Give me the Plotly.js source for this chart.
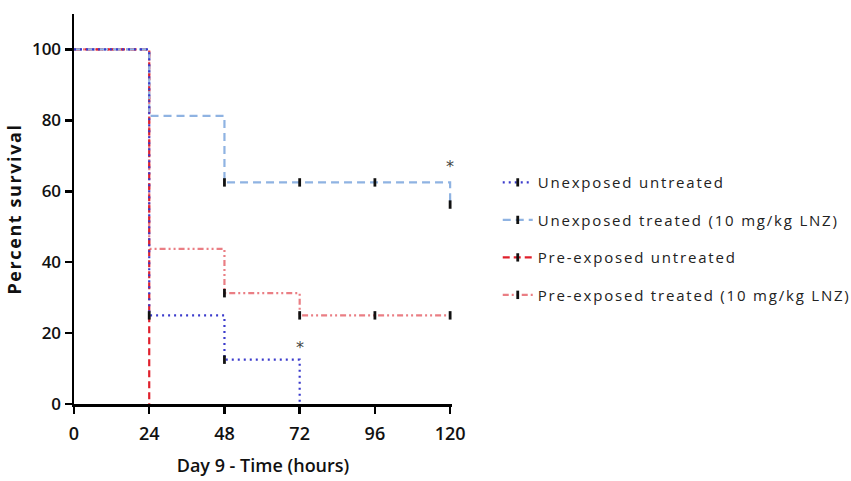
<!DOCTYPE html>
<html>
<head>
<meta charset="utf-8">
<script src="https://cdn.plot.ly/plotly-3.0.1.min.js"></script>
<style>
html,body{margin:0;padding:0;background:#fff;}
#chart{width:851px;height:481px;}
.legendtext{letter-spacing:1.8px;}
.ytitle{letter-spacing:1.6px;}
</style>
</head>
<body>
<div id="chart"></div>
<script>
// ---- data ----
const seriesNames = [
  "Unexposed untreated",
  "Unexposed treated (10 mg/kg LNZ)",
  "Pre-exposed untreated",
  "Pre-exposed treated (10 mg/kg LNZ)"
];
// step (event) points, hours vs percent survival
const unexpUntrX = [0, 24, 48, 72];
const unexpUntrY = [100, 25, 12.5, 0];
const unexpTrX = [0, 24, 48, 120];
const unexpTrY = [100, 81.25, 62.5, 56.25];
const preUntrX = [0, 24];
const preUntrY = [100, 0];
const preTrX = [0, 24, 48, 72, 120];
const preTrY = [100, 43.75, 31.25, 25, 25];
// censored marks
const unexpUntrCensX = [24, 48];
const unexpUntrCensY = [25, 12.5];
const unexpTrCensX = [48, 72, 96, 120];
const unexpTrCensY = [62.5, 62.5, 62.5, 56.25];
const preTrCensX = [48, 72, 96, 120];
const preTrCensY = [31.25, 25, 25, 25];
// significance stars
const starX = [72, 120];
const starY = [16, 67];
const xTicks = [0, 24, 48, 72, 96, 120];
const yTicks = [0, 20, 40, 60, 80, 100];

const colors = ["#3b3bcc", "#8fb3e2", "#e0202c", "#ea7e84"];
const dashes = ["2px,4px", "8px,5px", "7px,4px", "6px,3px,2px,3px,2px,3px"];

function stepTrace(x, y, i) {
  return {
    x: x, y: y, type: "scatter", mode: "lines",
    line: {shape: "hv", color: colors[i], width: 2.2, dash: dashes[i]},
    showlegend: false, legendgroup: "g" + i, hoverinfo: "skip"
  };
}
function censTrace(x, y, i) {
  return {
    x: x, y: y, type: "scatter", mode: "markers",
    marker: {symbol: "line-ns", size: 6, color: "#111", line: {color: "#111", width: 2.8}},
    showlegend: false, legendgroup: "g" + i, cliponaxis: false, hoverinfo: "skip"
  };
}
function legendTrace(i) {
  return {
    x: [null], y: [null], type: "scatter", mode: "lines+markers",
    name: seriesNames[i], legendgroup: "g" + i,
    line: {color: colors[i], width: 2.2, dash: dashes[i]},
    marker: {symbol: "line-ns", size: 6, color: "#111", line: {color: "#111", width: 2.8}}
  };
}

const traces = [
  stepTrace(preTrX, preTrY, 3),
  stepTrace(preUntrX, preUntrY, 2),
  stepTrace(unexpTrX, unexpTrY, 1),
  stepTrace(unexpUntrX, unexpUntrY, 0),
  censTrace(unexpUntrCensX, unexpUntrCensY, 0),
  censTrace(unexpTrCensX, unexpTrCensY, 1),
  censTrace(preTrCensX, preTrCensY, 3),
  legendTrace(0), legendTrace(1), legendTrace(2), legendTrace(3)
];

const annotations = starX.map((x, k) => ({
  x: x, y: starY[k], xref: "x", yref: "y", text: "*", showarrow: false,
  font: {family: "DejaVu Sans", size: 16, color: "#444"}
}));
annotations.push({x: 124.5, y: 24, xref: "x", yref: "y", text: ".", showarrow: false,
  font: {size: 14, color: "#333"}});
annotations.push({x: 167, y: -1.5, xref: "x", yref: "y", text: ".", showarrow: false,
  font: {size: 12, color: "#555"}});

const layout = {
  width: 851, height: 481,
  margin: {l: 74, r: 399, t: 14, b: 77, autoexpand: false},
  paper_bgcolor: "#fff", plot_bgcolor: "#fff",
  font: {family: "Open Sans, sans-serif", color: "#111"},
  showlegend: true,
  legend: {
    x: 1.121, y: 0.61, xanchor: "left", yanchor: "top",
    font: {family: "Open Sans, sans-serif", size: 15, color: "#222"},
    tracegroupgap: 15, bgcolor: "rgba(0,0,0,0)"
  },
  xaxis: {
    range: [0, 120.6], tickvals: xTicks, ticktext: xTicks.map(String),
    showline: true, linecolor: "#000", linewidth: 2.5, mirror: false,
    ticks: "outside", ticklen: 7, tickwidth: 2.5, tickcolor: "#000",
    ticklabelstandoff: 5,
    showgrid: false, zeroline: false,
    tickfont: {family: "Open Sans, sans-serif", size: 18, weight: 600, color: "#111"},
    title: {text: "Day 9 - Time (hours)", standoff: 16,
      font: {family: "Open Sans, sans-serif", size: 18, weight: 600, color: "#111"}}
  },
  yaxis: {
    range: [0, 110], tickvals: yTicks, ticktext: yTicks.map(String),
    showline: true, linecolor: "#000", linewidth: 2.5,
    ticks: "outside", ticklen: 7, tickwidth: 2.5, tickcolor: "#000",
    showgrid: false, zeroline: false,
    tickfont: {family: "Open Sans, sans-serif", size: 17, weight: 600, color: "#111"},
    title: {text: "Percent survival", standoff: 6,
      font: {family: "Open Sans, sans-serif", size: 18, weight: 700, color: "#111"}}
  },
  annotations: annotations
};

Plotly.newPlot("chart", traces, layout, {staticPlot: true, displayModeBar: false});
</script>
</body>
</html>
